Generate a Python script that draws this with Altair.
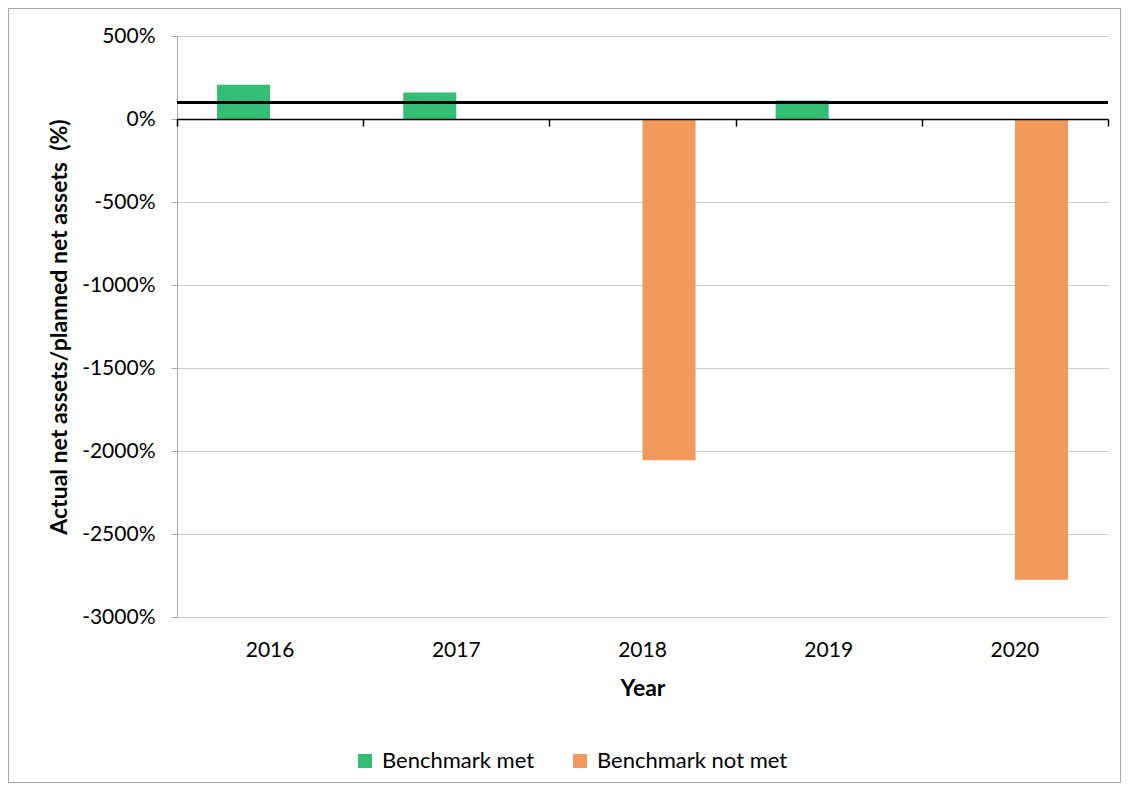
import altair as alt
import pandas as pd

years = ["2016", "2017", "2018", "2019", "2020"]
values = [207, 159, -2056, 111, -2775]
status = ["Benchmark met", "Benchmark met", "Benchmark not met", "Benchmark met", "Benchmark not met"]
categories = ["Benchmark met", "Benchmark not met"]
colors = ["#33BE73", "#F1995A"]
benchmark = [100]
y_ticks = [500, 0, -500, -1000, -1500, -2000, -2500, -3000]

df = pd.DataFrame({"Year": years, "Value": values, "Status": status})
bench_df = pd.DataFrame({"Benchmark": benchmark})
frame_df = pd.DataFrame({"f": [0]})

FONT = "Lato"
W, H = 931, 581
PAD = {"left": 169, "top": 28, "right": 13, "bottom": 166}

x_scale = alt.Scale(domain=years, paddingInner=0.43, paddingOuter=0.215)
x_scale_full = alt.Scale(domain=years, paddingInner=0, paddingOuter=0)
y_scale = alt.Scale(domain=[-3000, 500], nice=False, zero=False)

bars = alt.Chart(df).mark_bar().encode(
    x=alt.X("Year:N", scale=x_scale,
            axis=alt.Axis(title="Year", domain=False, ticks=False, labelAngle=0,
                          labelPadding=22, labelFontSize=21, labelColor="#000",
                          titleFontSize=23, titleFontWeight="bold", titleColor="#000",
                          titlePadding=17, grid=False, labelFont=FONT, titleFont=FONT)),
    xOffset=alt.XOffset("Status:N", scale=alt.Scale(domain=categories, paddingInner=0, paddingOuter=0)),
    y=alt.Y("Value:Q", scale=y_scale,
            axis=alt.Axis(values=y_ticks, labelExpr="datum.value + '%'",
                          title="Actual net assets/planned net assets\u00a0\u00a0(%)",
                          labelFontSize=21, labelColor="#000", labelPadding=16,
                          titleFontSize=23, titleFontWeight="bold", titleColor="#000",
                          titlePadding=10, labelFont=FONT, titleFont=FONT,
                          domainColor="#A6A6A6", tickColor="#A6A6A6", tickSize=6,
                          gridColor="#999999", gridDash=[1, 1], gridWidth=1)),
    color=alt.Color("Status:N", scale=alt.Scale(domain=categories, range=colors),
                    legend=alt.Legend(title=None, orient="none", direction="horizontal",
                                      legendX=177, legendY=714, symbolType="square",
                                      symbolSize=196, symbolStrokeWidth=0,
                                      labelFontSize=22, labelFont=FONT, labelColor="#000",
                                      labelLimit=400, labelOffset=6, columnPadding=34)),
)

zero_axis = alt.Chart(df).mark_bar(opacity=0).encode(
    x=alt.X("Year:N", scale=x_scale_full,
            axis=alt.Axis(title=None, labels=False, domainColor="#000", domainWidth=1.5,
                          tickColor="#000", tickWidth=1.5, tickSize=7, tickBand="extent",
                          offset=-498, grid=False, orient="bottom", zindex=2)),
)

rule = alt.Chart(bench_df).mark_rule(color="#000", strokeWidth=3).encode(
    y=alt.Y("Benchmark:Q", scale=y_scale)
)

frame = alt.Chart(frame_df).mark_rect(fill=None, stroke="#A6A6A6", strokeWidth=1).encode(
    x=alt.value(-PAD["left"] + 0.5), x2=alt.value(W + PAD["right"] - 0.5),
    y=alt.value(-PAD["top"] + 0.5), y2=alt.value(H + PAD["bottom"] - 0.5),
)

chart = alt.layer(bars, zero_axis, rule, frame).resolve_axis(x="independent").resolve_scale(
    x="independent"
).properties(
    width=W, height=H,
    autosize=alt.AutoSizeParams(type="none"),
    padding=PAD,
).configure_view(stroke=None)

chart.save("out.html", embed_options={"renderer": "svg", "actions": False})
